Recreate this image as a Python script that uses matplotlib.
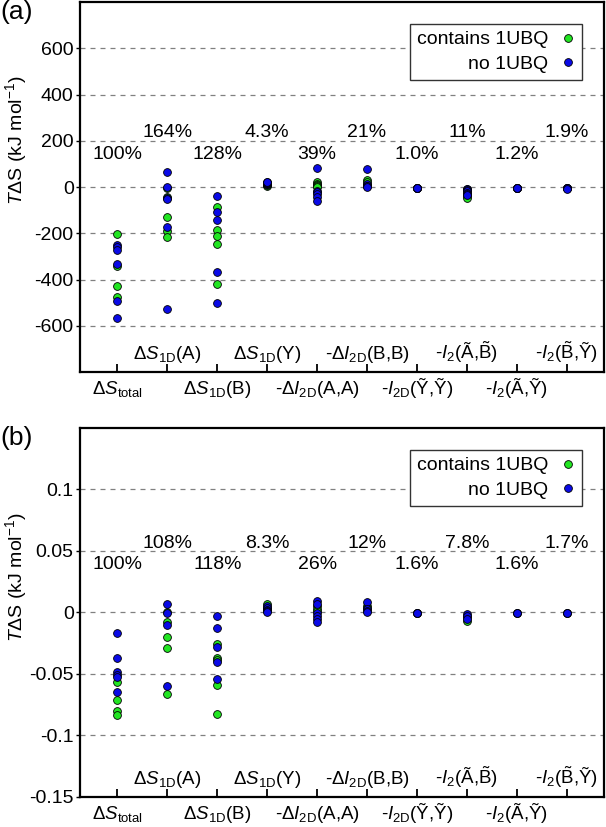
import numpy as np
import matplotlib
matplotlib.use("Agg")
import matplotlib.pyplot as plt

plt.rcParams["font.family"] = ["Liberation Sans", "DejaVu Sans"]
plt.rcParams["mathtext.fontset"] = "custom"
plt.rcParams["mathtext.rm"] = "Liberation Sans"
plt.rcParams["mathtext.it"] = "Liberation Sans:italic"
plt.rcParams["mathtext.bf"] = "Liberation Sans:bold"
plt.rcParams["axes.unicode_minus"] = False

# categories (x positions 1..10)
labels = [r"$\Delta S_{\mathrm{total}}$",
          r"$\Delta S_{\mathrm{1D}}$(A)",
          r"$\Delta S_{\mathrm{1D}}$(B)",
          r"$\Delta S_{\mathrm{1D}}$(Y)",
          r"-$\Delta I_{\mathrm{2D}}$(A,A)",
          r"-$\Delta I_{\mathrm{2D}}$(B,B)",
          r"-$I_{\mathrm{2D}}$(Ỹ,Ỹ)",
          r"-$I_2$(Ã,$\tilde{\mathrm{B}}$)",
          r"-$I_2$(Ã,Ỹ)",
          r"-$I_2$($\tilde{\mathrm{B}}$,Ỹ)"]

# panel (a), kJ/mol
a_green = [[-204, -340, -427, -476],
           [-5, -42, -131, -190, -214],
           [-85, -186, -212, -247, -419],
           [6, 9, 12],
           [22, 14, 10, 6, -1],
           [29, 20, 10],
           [-2, -3],
           [-10, -30, -40, -47],
           [-2, -3],
           [-3, -5]]
a_blue = [[-250, -260, -272, -334, -491, -565],
          [65, 0, -48, -52, -171, -527],
          [-40, -106, -144, -367, -502],
          [14, 16, 18, 21, 24],
          [82, -15, -22, -32, -43, -60],
          [78, 12, 6, 4, 0],
          [-2, -3, -4, -5],
          [-7, -12, -19, -25, -32, -36],
          [-2, -3, -4, -5],
          [-4, -5, -6, -7]]
a_pct = ["100%", "164%", "128%", "4.3%", "39%", "21%", "1.0%", "11%", "1.2%", "1.9%"]

# panel (b), kJ/mol
b_green = [[-0.0565, -0.0714, -0.0805, -0.0835],
           [0.0, -0.0081, -0.0197, -0.0286, -0.066],
           [-0.0257, -0.0368, -0.039, -0.0586, -0.0822],
           [0.0068, 0.004, 0.002],
           [0.0049, 0.003, 0.001],
           [0.0054, 0.004],
           [-0.0003],
           [-0.0073, -0.004],
           [-0.0003],
           [-0.0006]]
b_blue = [[-0.0165, -0.037, -0.048, -0.0505, -0.0527, -0.0646],
          [0.0068, -0.0005, -0.0105, -0.060],
          [-0.0027, -0.0124, -0.0284, -0.0403, -0.0538],
          [0.0049, 0.0035, 0.0022, 0.0008, 0.0],
          [0.0095, 0.0068, -0.0005, -0.0032, -0.0054, -0.0081],
          [0.0086, 0.0027, 0.001, 0.0],
          [-0.0002, -0.0005, -0.0008],
          [-0.0014, -0.003, -0.0054],
          [-0.0002, -0.0005],
          [-0.0005, -0.0008]]
b_pct = ["100%", "108%", "118%", "8.3%", "26%", "12%", "1.6%", "7.8%", "1.6%", "1.7%"]

a_yticks = [-600, -400, -200, 0, 200, 400, 600]
a_yticklabels = ["-600", "-400", "-200", "0", "200", "400", "600"]
b_yticks = [-0.15, -0.1, -0.05, 0, 0.05, 0.1]
b_yticklabels = ["-0.15", "-0.1", "-0.05", "0", "0.05", "0.1"]

c_green = "#22e522"
c_blue = "#0a0ae6"
FS = 14

fig = plt.figure(figsize=(6.06, 8.27), dpi=100)
ax_a = fig.add_axes([0.132, 0.550, 0.865, 0.4476])
ax_b = fig.add_axes([0.132, 0.0363, 0.865, 0.4462])


def draw(ax, green, blue, pct, ylim, yticks, yticklabels, pct_y, ylab_y, letter):
    x = np.arange(1, len(labels) + 1)
    for i in range(len(labels)):
        ax.plot([x[i]] * len(green[i]), green[i], "o", ms=5.6, mfc=c_green,
                mec="black", mew=0.6, zorder=3)
    for i in range(len(labels)):
        ax.plot([x[i]] * len(blue[i]), blue[i], "o", ms=5.6, mfc=c_blue,
                mec="black", mew=0.6, zorder=4)
    # legend proxies
    ax.plot([], [], "o", ms=5.6, mfc=c_green, mec="black", mew=0.6, label="contains 1UBQ")
    ax.plot([], [], "o", ms=5.6, mfc=c_blue, mec="black", mew=0.6, label="no 1UBQ")

    for i, p in enumerate(pct):
        ax.text(x[i], pct_y[i % 2], p, ha="center", va="baseline", fontsize=FS)

    ax.set_xlim(0.25, 10.75)
    ax.set_ylim(*ylim)
    ax.set_yticks(yticks)
    ax.set_yticklabels(yticklabels, fontsize=FS)
    ax.set_xticks(x)
    ax.set_xticklabels([])
    ax.tick_params(axis="x", direction="in", length=6, width=1.3)
    ax.tick_params(axis="y", direction="out", length=3, width=1.0, pad=1.5)
    ax.yaxis.grid(True, ls=(0, (4, 4)), color="0.5", lw=0.9)
    ax.set_axisbelow(True)
    for s in ax.spines.values():
        s.set_linewidth(1.6)

    for i, lab in enumerate(labels):
        off = 9.5 if i % 2 == 1 else -16
        ax.annotate(lab, xy=(x[i], 0), xycoords=("data", "axes fraction"),
                    xytext=(0, off), textcoords="offset points",
                    ha="center", va="baseline", fontsize=13.5)

    ax.set_ylabel(r"$T\Delta$S (kJ mol$^{-1}$)", fontsize=FS)
    ax.yaxis.set_label_coords(-0.098, ylab_y)

    leg = ax.legend(loc="upper right", bbox_to_anchor=(0.958, 0.9405),
                    borderaxespad=0, markerfirst=False, numpoints=1,
                    handlelength=0.8, handletextpad=0.6, fontsize=FS,
                    fancybox=False, framealpha=1, edgecolor="0.2",
                    borderpad=0.35, labelspacing=0.35)
    leg.get_frame().set_linewidth(1.0)

    ax.text(-0.152, 1.005, letter, transform=ax.transAxes, ha="left", va="top",
            fontsize=19)


draw(ax_a, a_green, a_blue, a_pct, (-800, 800), a_yticks, a_yticklabels,
     (121, 217), 0.627, "(a)")
draw(ax_b, b_green, b_blue, b_pct, (-0.15, 0.15), b_yticks, b_yticklabels,
     (0.0355, 0.0528), 0.596, "(b)")

fig.savefig("out.png", dpi=100)
